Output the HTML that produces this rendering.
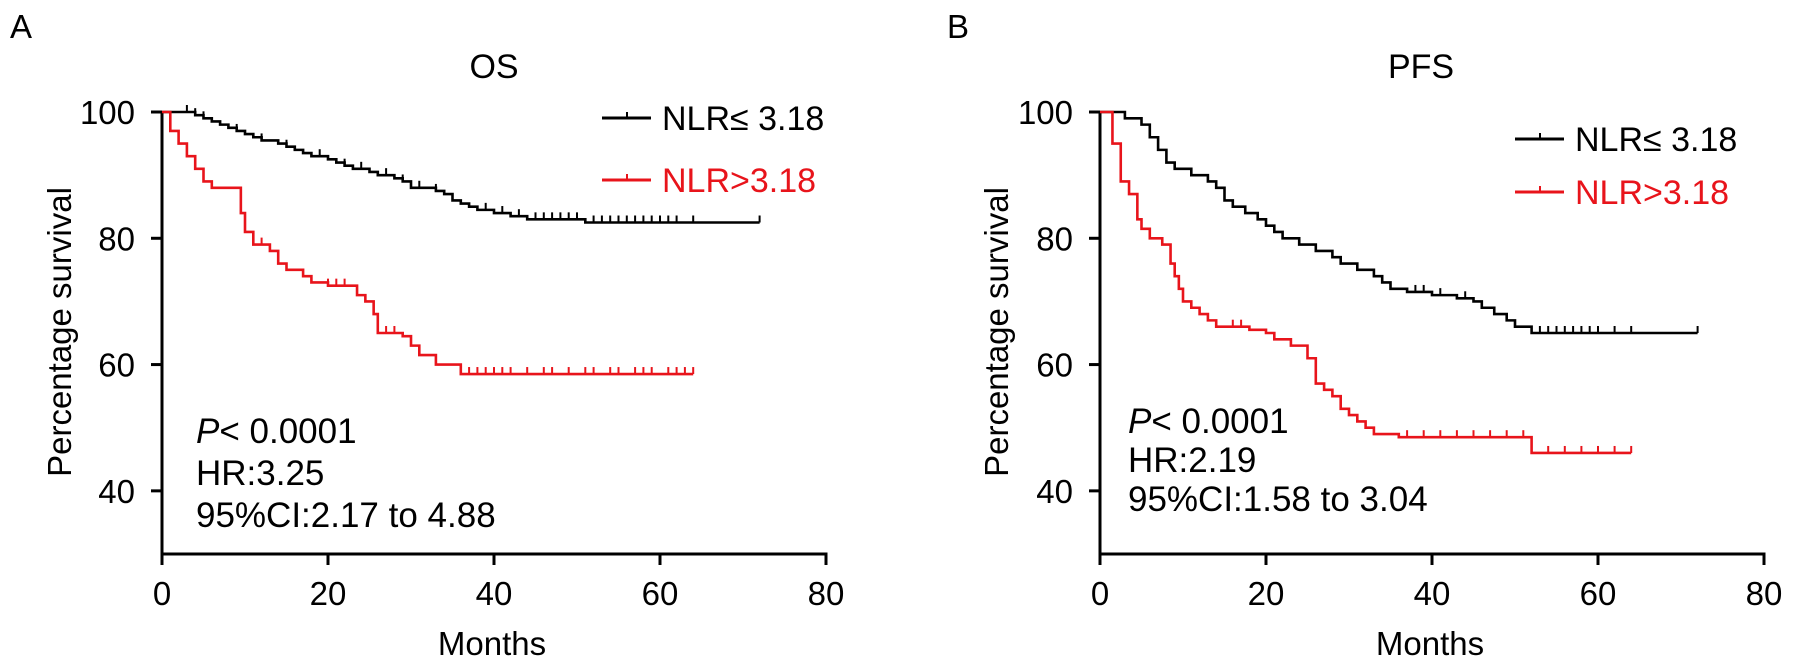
<!DOCTYPE html>
<html><head><meta charset="utf-8"><style>
html,body{margin:0;padding:0;background:#fff}
svg{display:block;font-family:"Liberation Sans",Arial,sans-serif}
</style></head><body>
<svg id="fig" width="1795" height="670" viewBox="0 0 1795 670"></svg>
<script>
// ---- Data ----
const xTicks = [0, 20, 40, 60, 80];
const yTicks = [40, 60, 80, 100];
// Panel A (OS)
const osLowTimes = [0,4,5,6,7,8,9,10,11,12,14,15,16,17,18,20,21,22,23,25,26,28,29,30,33,34,35,36,37,38,40,42,44,51];
const osLowVals  = [100,99.5,99,98.5,98,97.5,97,96.5,96,95.5,95,94.5,94,93.5,93,92.5,92,91.5,91,90.5,90,89.5,89,88,87.5,87,86,85.5,85,84.5,84,83.5,83,82.5];
const osLowEnd = 72;
const osLowCensor = [3,4,5,9,12,15,19,22,24,27,29,31,33,39,41,43,45,46,47,48,49,50,52,53,54,55,56,57,58,59,60,61,62,64,72];
const osHighTimes = [0,1,2,3,4,5,6,7,9.5,10,11,13,14,15,17,18,20,23.5,24.5,25.5,26,29,30,31,33,36];
const osHighVals  = [100,97,95,93,91,89,88,88,84,81,79,78,76,75,74,73,72.5,71,70,68,65,64.5,63,61.5,60,58.5];
const osHighEnd = 64;
const osHighCensor = [12,20,21,22,27,28,37,38,39,40,41,42,44,46,47,49,51,52,54,55,57,58,59,61,62,63,64];
// Panel B (PFS)
const pfsLowTimes = [0,3,5,6,7,8,9,11,13,14,15,16,17.5,19,20,21,22,24,26,28,29,31,33,34,35,37,40,43,45,46,47.5,49,50,52];
const pfsLowVals  = [100,99,98,96,94,92,91,90,89,88,86,85,84,83,82,81,80,79,78,77,76,75,74,73,72,71.5,71,70.5,70,69,68,67,66,65];
const pfsLowEnd = 72;
const pfsLowCensor = [38,39,41,44,53,54,55,56,57,58,59,60,62,64,72];
const pfsHighTimes = [0,1.5,2.5,3.5,4.5,5,6,7.5,8.5,9,9.5,10,11,12,13,14,18,20,21,23,25,26,27,28,29,30,31,32,33,36,52];
const pfsHighVals  = [100,95,89,87,83,81.5,80,79,76,74,72,70,69,68,67,66,65.5,65,64,63,61,57,56,55,53,52,51,50,49,48.5,46];
const pfsHighEnd = 64;
const pfsHighCensor = [16,17,37,39,41,43,45,47,49,51,54,56,58,60,62,64];

const svg = document.getElementById('fig');
const NS = 'http://www.w3.org/2000/svg';
function mk(tag, attrs, parent){const e=document.createElementNS(NS,tag);for(const k in attrs)e.setAttribute(k,attrs[k]);(parent||svg).appendChild(e);return e;}
const FS = 33;

function panel(cfg){
  const g = mk('g',{});
  
  
  const x0=cfg.x0, x1=cfg.x1, yTop=112, yBot=554;
  const sx = t => x0 + t*(x1-x0)/80;
  const sy = v => yTop + (100-v)*(yBot-yTop)/70;
  const ya = mk('line',{x1:x0,y1:yTop,x2:x0,y2:yBot,stroke:'#000','stroke-width':3},g);
   
  const xa = mk('line',{x1:x0-1.5,y1:yBot,x2:x1+1.5,y2:yBot,stroke:'#000','stroke-width':3},g);
   
  yTicks.forEach(v=>{
    mk('line',{x1:x0-11,y1:sy(v),x2:x0,y2:sy(v),stroke:'#000','stroke-width':3},g);
    const t=mk('text',{x:x0-27,y:sy(v)+12,'text-anchor':'end','font-size':FS},g);
    t.textContent=v;
     
  });
  xTicks.forEach(v=>{
    mk('line',{x1:sx(v),y1:yBot,x2:sx(v),y2:yBot+11,stroke:'#000','stroke-width':3},g);
    const t=mk('text',{x:sx(v),y:605,'text-anchor':'middle','font-size':FS},g);
    t.textContent=v;
     
  });
  const xt=mk('text',{x:cfg.monthsX,y:655,'text-anchor':'middle','font-size':FS},g);
  xt.textContent='Months';
   
  const yt=mk('text',{x:0,y:0,'text-anchor':'middle','font-size':FS,transform:`translate(${cfg.ytx},332) rotate(-90)`},g);
  yt.textContent='Percentage survival';
   
  const ti=mk('text',{x:cfg.titleX,y:78,'text-anchor':'middle','font-size':34},g);
  ti.textContent=cfg.title;
   
  const pl=mk('text',{x:cfg.letterX,y:38,'font-size':FS},g);
  pl.textContent=cfg.letter;
   
  cfg.series.forEach(s=>{
    let d=`M${sx(s.times[0])},${sy(s.vals[0])}`;
    for(let i=1;i<s.times.length;i++){ d+=` H${sx(s.times[i])} V${sy(s.vals[i])}`; }
    d+=` H${sx(s.end)}`;
    const p=mk('path',{d:d,fill:'none',stroke:s.color,'stroke-width':2.6},g);
     
    const valAt=t=>{let v=s.vals[0];for(let i=0;i<s.times.length;i++){if(s.times[i]<=t)v=s.vals[i];}return v;};
    s.censor.forEach(t=>{
      const c=mk('line',{x1:sx(t),y1:sy(valAt(t))-7,x2:sx(t),y2:sy(valAt(t)),stroke:s.color,'stroke-width':2},g);
       
    });
    const lg=mk('g',{},g);
     
    mk('line',{x1:s.lx,y1:s.ly,x2:s.lx+49,y2:s.ly,stroke:s.color,'stroke-width':3},lg);
    mk('line',{x1:s.lx+25,y1:s.ly-6,x2:s.lx+25,y2:s.ly,stroke:s.color,'stroke-width':2},lg);
    const lt=mk('text',{x:s.lx+60,y:s.ly+12,'font-size':34,fill:s.color},lg);
    lt.textContent=s.label;
  });
  const st=mk('text',{x:cfg.statX,y:0,'font-size':35},g);
   
  const t1=mk('tspan',{x:cfg.statX,y:cfg.statY},st);
  const pi=mk('tspan',{'font-style':'italic'},t1); pi.textContent='P';
  const pr=mk('tspan',{},t1); pr.textContent='< 0.0001';
  const t2=mk('tspan',{x:cfg.statX,y:cfg.statY+cfg.statGap},st); t2.textContent='HR:'+cfg.hr;
  const t3=mk('tspan',{x:cfg.statX,y:cfg.statY+2*cfg.statGap},st); t3.textContent='95%CI:'+cfg.ci;
}

panel({name:'os-panel',x0:162,x1:826,ytx:71,titleX:494,monthsX:492,title:'OS',letter:'A',letterX:10,statX:196,statY:443,statGap:42,hr:'3.25',ci:'2.17 to 4.88',
  series:[
    {name:'os-nlr-low-curve',times:osLowTimes,vals:osLowVals,end:osLowEnd,censor:osLowCensor,color:'#000',label:'NLR\u2264 3.18',lx:602,ly:118},
    {name:'os-nlr-high-curve',times:osHighTimes,vals:osHighVals,end:osHighEnd,censor:osHighCensor,color:'#e8141b',label:'NLR>3.18',lx:602,ly:180}
  ]});
panel({name:'pfs-panel',x0:1100,x1:1764,ytx:1008,titleX:1421,monthsX:1430,title:'PFS',letter:'B',letterX:947,statX:1128,statY:433,statGap:39,hr:'2.19',ci:'1.58 to 3.04',
  series:[
    {name:'pfs-nlr-low-curve',times:pfsLowTimes,vals:pfsLowVals,end:pfsLowEnd,censor:pfsLowCensor,color:'#000',label:'NLR\u2264 3.18',lx:1515,ly:139},
    {name:'pfs-nlr-high-curve',times:pfsHighTimes,vals:pfsHighVals,end:pfsHighEnd,censor:pfsHighCensor,color:'#e8141b',label:'NLR>3.18',lx:1515,ly:192}
  ]});
</script>
</body></html>
